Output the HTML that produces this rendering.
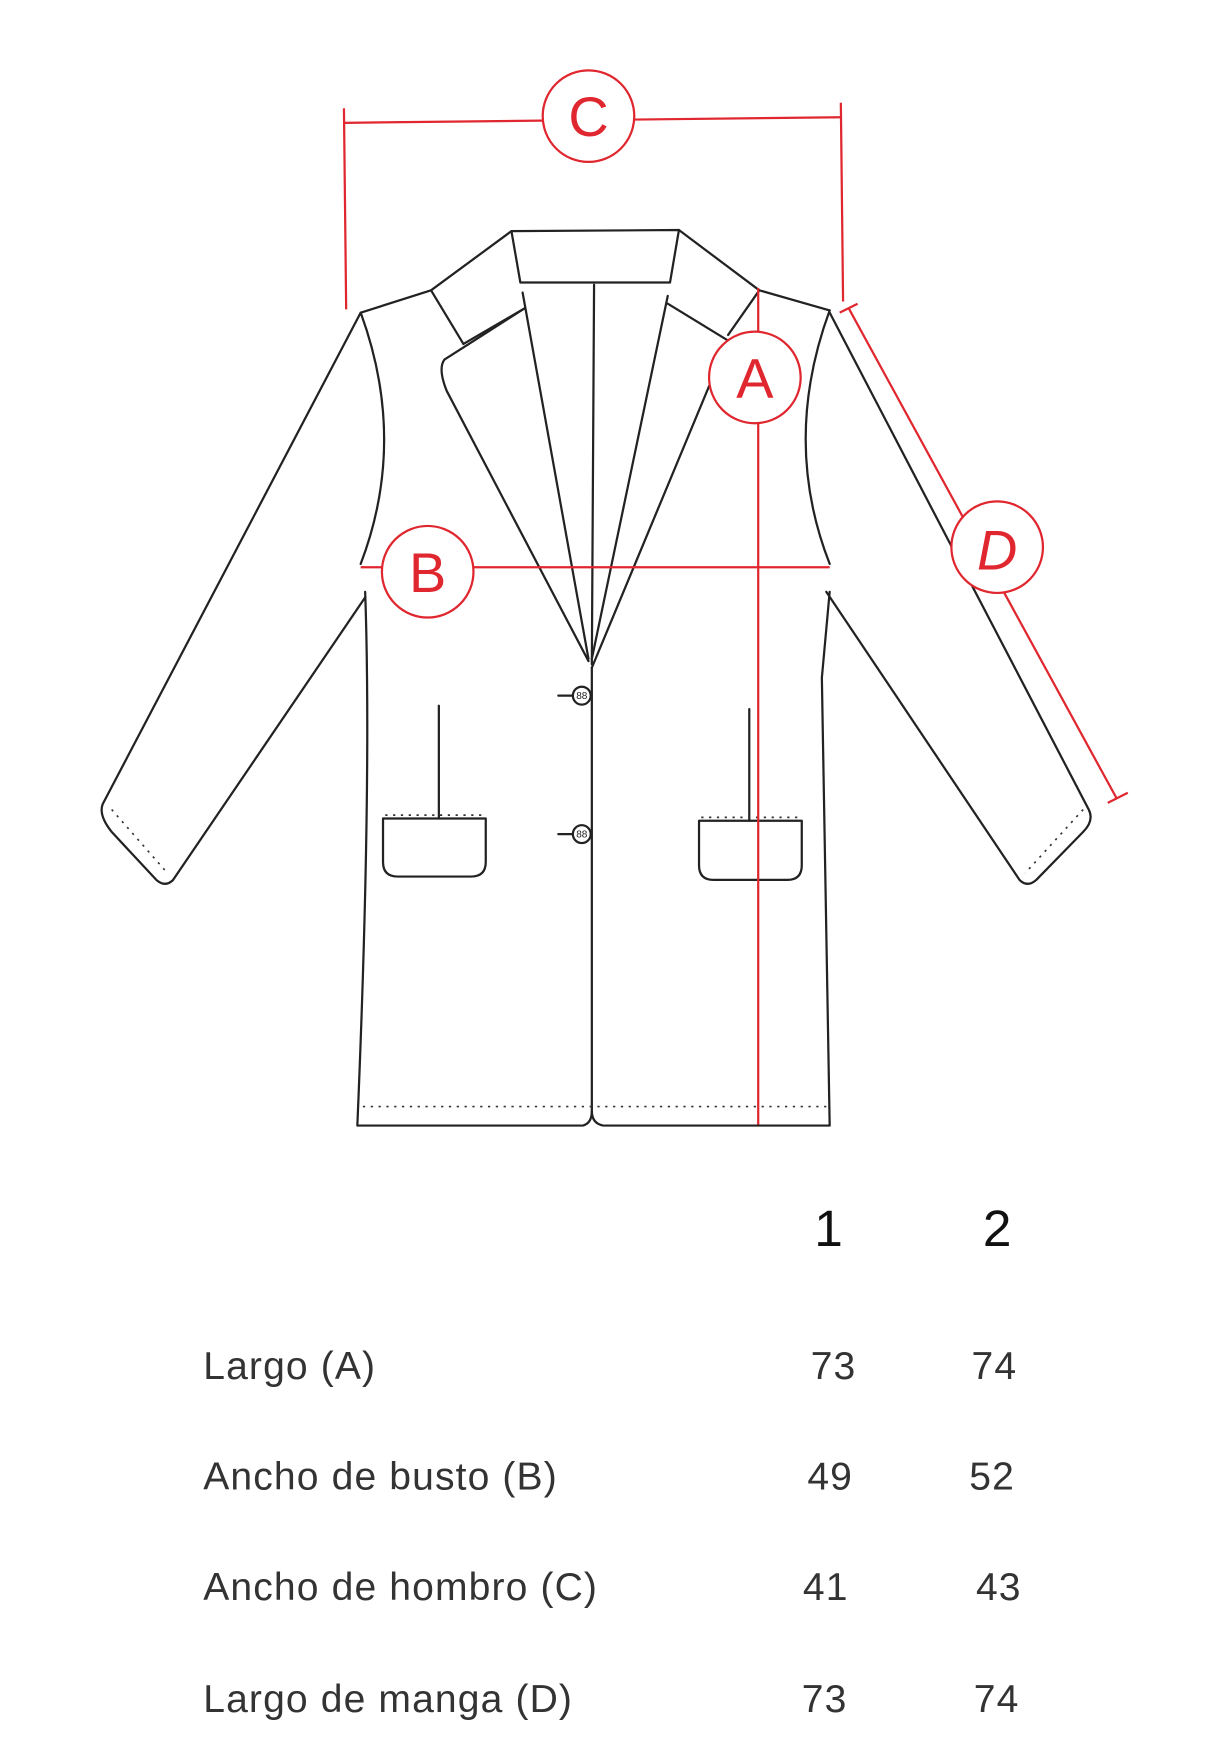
<!DOCTYPE html>
<html><head><meta charset="utf-8"><style>html,body{margin:0;padding:0;background:#fff}svg{display:block}</style></head>
<body>
<svg width="1206" height="1752" viewBox="0 0 1080 1569" xmlns="http://www.w3.org/2000/svg">
<g fill="none" stroke="#222" stroke-width="2" stroke-linejoin="round" stroke-linecap="round">
<path d="M323,280 L386,260 L458,207 L608,206 L680,260 L743,278"/>
<path d="M458,207 L466,253 L600,253 L608,206"/>
<path d="M386,260 L415,308"/>
<path d="M680,260 L652,300"/>
<path d="M415,308 L470,276"/>
<path d="M470,276 L398,322 Q392,330 400,350 L527,592"/>
<path d="M468,262 L527,590"/>
<path d="M598,272 L652,305 L530,598"/>
<path d="M598,265 L530,590"/>
<path d="M532,255 L530,595"/>
<path d="M323,280 Q365,395 323,505"/>
<path d="M743,278 Q700,395 743,505"/>
<path d="M327,530 Q333,700 320,1008 L522,1008 Q530,1006 530,995 L530,598"/>
<path d="M530,995 Q530,1006 540,1008 L743,1008 L736,607 L743,530"/>
<path d="M323,280 L92,720 Q88,730 100,745 L140,788 Q148,795 155,788 L327,535"/>
<path d="M743,280 L975,725 Q980,735 970,745 L928,788 Q920,795 913,788 L740,530"/>
<path d="M343,733 L435,733 L435,772 Q435,785 422,785 L356,785 Q343,785 343,772 Z"/>
<path d="M626,735 L718,735 L718,775 Q718,788 705,788 L639,788 Q626,788 626,775 Z"/>
<path d="M393,632 L393,733"/>
<path d="M671,635 L671,735"/>
<circle cx="521" cy="623" r="8"/><path d="M500,623 L513,623"/>
<circle cx="521" cy="747" r="8"/><path d="M500,747 L513,747"/>
</g>
<g fill="none" stroke="#333" stroke-width="1.5" stroke-dasharray="2,5">
<path d="M325,991 L742,991"/>
<path d="M345,730 L433,730"/>
<path d="M628,732 L716,732"/>
<path d="M100,725 L150,782"/>
<path d="M970,725 L918,782"/>
</g>
<g fill="#222" font-family="Liberation Sans" font-size="9" text-anchor="middle"><text x="521" y="626">88</text><text x="521" y="750">88</text></g>
<g fill="none" stroke="#e0262e" stroke-width="2">
<path d="M308,110 L753,105"/>
<path d="M308,97 L310,277"/>
<path d="M753,92 L755,270"/>
<path d="M679,258 L679,1007"/>
<path d="M323,508 L743,508"/>
<path d="M760,276 L1000,715"/>
<path d="M752,280 L768,272"/>
<path d="M992,719 L1010,710"/>
</g>
<g fill="#fff" stroke="#e0262e" stroke-width="2">
<circle cx="527" cy="104" r="41"/>
<circle cx="676" cy="338" r="41"/>
<circle cx="383" cy="512" r="41"/>
<circle cx="893" cy="490" r="41"/>
</g>
<g fill="#e0262e" font-family="Liberation Sans" font-size="50" text-anchor="middle">
<text x="527" y="122">C</text>
<text x="676" y="356">A</text>
<text x="383" y="530">B</text>
<text x="893" y="510" font-style="italic">D</text>
</g>
<g fill="#111" font-family="Liberation Sans" font-size="46" text-anchor="middle">
<text x="742" y="1116">1</text><text x="893" y="1116">2</text>
</g>
<g fill="#333" font-family="Liberation Sans" font-size="35" letter-spacing="1">
<text x="182" y="1235">Largo (A)</text>
<text x="182" y="1334">Ancho de busto (B)</text>
<text x="182" y="1433">Ancho de hombro (C)</text>
<text x="182" y="1533">Largo de manga (D)</text>
<text x="726" y="1235">73</text><text x="870" y="1235">74</text>
<text x="723" y="1334">49</text><text x="868" y="1334">52</text>
<text x="719" y="1433">41</text><text x="874" y="1433">43</text>
<text x="718" y="1533">73</text><text x="872" y="1533">74</text>
</g>
</svg>
</body></html>
